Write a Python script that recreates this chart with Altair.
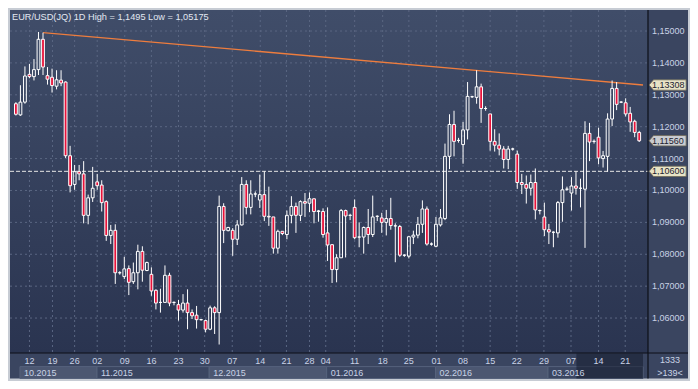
import altair as alt
import pandas as pd

# ---------------- data ----------------
opens = [1.1272, 1.1237, 1.1277, 1.1364, 1.1357, 1.1379, 1.1474, 1.1360, 1.1355, 1.1327,
         1.1346, 1.1340, 1.1109, 1.1019, 1.1059, 1.1052, 1.0922, 1.0977, 1.1027, 1.1017,
         1.0965, 1.0859, 1.0875, 1.0742, 1.0730, 1.0755, 1.0714, 1.0742, 1.0809, 1.0749,
         1.0737, 1.0687, 1.0649, 1.0649, 1.0734, 1.0649, 1.0642, 1.0625, 1.0647, 1.0617,
         1.0609, 1.0595, 1.0592, 1.0565, 1.0632, 1.0617, 1.0950, 1.0874, 1.0875, 1.0847,
         1.0892, 1.1019, 1.0947, 1.0989, 1.0970, 1.0987, 1.0919, 1.0917, 1.0819, 1.0872,
         1.0862, 1.0922, 1.0950, 1.0922, 1.0965, 1.0960, 1.0974, 1.0934, 1.0934, 1.0867,
         1.0830, 1.0752, 1.0789, 1.0937, 1.0922, 1.0947, 1.0854, 1.0854, 1.0884, 1.0862,
         1.0919, 1.0914, 1.0900, 1.0912, 1.0889, 1.0887, 1.0797, 1.0794, 1.0854, 1.0860,
         1.0894, 1.0942, 1.0832, 1.0825, 1.0892, 1.0912, 1.1107, 1.1207, 1.1157, 1.1144,
         1.1190, 1.1294, 1.1292, 1.1325, 1.1257, 1.1240, 1.1154, 1.1142, 1.1130, 1.1097,
         1.1130, 1.1114, 1.1025, 1.1019, 1.1007, 1.1025, 1.0937, 1.0917, 1.0877, 1.0869,
         1.0867, 1.0962, 1.1004, 1.0992, 1.1014, 1.1007, 1.1004, 1.1179, 1.1154, 1.1167,
         1.1100, 1.1107, 1.1224, 1.1320, 1.1277, 1.1275, 1.1242, 1.1217, 1.1182]
highs = [1.1277, 1.1330, 1.1389, 1.1397, 1.1412, 1.1497, 1.1495, 1.1387, 1.1382, 1.1377,
         1.1377, 1.1342, 1.1140, 1.1080, 1.1080, 1.1092, 1.0987, 1.1074, 1.1052, 1.1032,
         1.0969, 1.0892, 1.0894, 1.0747, 1.0792, 1.0765, 1.0774, 1.0830, 1.0825, 1.0777,
         1.0759, 1.0690, 1.0692, 1.0765, 1.0742, 1.0652, 1.0657, 1.0675, 1.0690, 1.0627,
         1.0638, 1.0597, 1.0595, 1.0639, 1.0637, 1.0984, 1.0960, 1.0886, 1.0882, 1.0907,
         1.1042, 1.1032, 1.1032, 1.0997, 1.1050, 1.1060, 1.1012, 1.0917, 1.0877, 1.0872,
         1.0937, 1.0982, 1.0962, 1.0969, 1.0992, 1.0994, 1.0974, 1.0939, 1.0944, 1.0947,
         1.0832, 1.0800, 1.0942, 1.0940, 1.0927, 1.0972, 1.0900, 1.0887, 1.0942, 1.0984,
         1.0922, 1.0930, 1.0939, 1.0977, 1.0897, 1.0892, 1.0800, 1.0857, 1.0874, 1.0917,
         1.0969, 1.0950, 1.0837, 1.0917, 1.0942, 1.1147, 1.1239, 1.1250, 1.1165, 1.1215,
         1.1340, 1.1297, 1.1377, 1.1335, 1.1264, 1.1240, 1.1192, 1.1179, 1.1139, 1.1140,
         1.1134, 1.1125, 1.1052, 1.1047, 1.1050, 1.1069, 1.0940, 1.0962, 1.0895, 1.0872,
         1.0967, 1.1044, 1.1012, 1.1042, 1.1060, 1.1037, 1.1217, 1.1212, 1.1160, 1.1197,
         1.1124, 1.1242, 1.1345, 1.1340, 1.1280, 1.1289, 1.1262, 1.1222, 1.1187]
lows = [1.1235, 1.1234, 1.1272, 1.1352, 1.1345, 1.1362, 1.1362, 1.1332, 1.1307, 1.1317,
        1.1327, 1.1102, 1.0994, 1.1002, 1.1032, 1.0897, 1.0894, 1.0964, 1.1002, 1.0934,
        1.0842, 1.0832, 1.0707, 1.0736, 1.0722, 1.0672, 1.0707, 1.0690, 1.0714, 1.0747,
        1.0670, 1.0627, 1.0617, 1.0649, 1.0637, 1.0640, 1.0592, 1.0617, 1.0565, 1.0597,
        1.0567, 1.0592, 1.0555, 1.0562, 1.0550, 1.0517, 1.0835, 1.0872, 1.0795, 1.0829,
        1.0890, 1.0925, 1.0925, 1.0979, 1.0945, 1.0904, 1.0889, 1.0802, 1.0802, 1.0860,
        1.0847, 1.0897, 1.0867, 1.0904, 1.0917, 1.0932, 1.0897, 1.0902, 1.0852, 1.0779,
        1.0710, 1.0712, 1.0789, 1.0790, 1.0907, 1.0847, 1.0822, 1.0802, 1.0832, 1.0854,
        1.0904, 1.0867, 1.0859, 1.0877, 1.0775, 1.0792, 1.0792, 1.0787, 1.0832, 1.0850,
        1.0867, 1.0827, 1.0827, 1.0822, 1.0887, 1.0907, 1.1067, 1.1107, 1.1150, 1.1084,
        1.1160, 1.1290, 1.1272, 1.1212, 1.1250, 1.1125, 1.1122, 1.1110, 1.1069, 1.1067,
        1.1125, 1.1005, 1.0989, 1.0959, 1.0984, 1.0909, 1.0925, 1.0857, 1.0832, 1.0822,
        1.0852, 1.0902, 1.0999, 1.0937, 1.0987, 1.0947, 1.0820, 1.1092, 1.1147, 1.1082,
        1.1072, 1.1059, 1.1202, 1.1252, 1.1274, 1.1232, 1.1184, 1.1167, 1.1152]
closes = [1.1239, 1.1277, 1.1359, 1.1357, 1.1379, 1.1474, 1.1387, 1.1349, 1.1329, 1.1347,
          1.1337, 1.1109, 1.1015, 1.1059, 1.1052, 1.0922, 1.0977, 1.1007, 1.1015, 1.0962,
          1.0859, 1.0875, 1.0742, 1.0742, 1.0754, 1.0712, 1.0742, 1.0809, 1.0750, 1.0774,
          1.0685, 1.0647, 1.0649, 1.0734, 1.0647, 1.0649, 1.0625, 1.0647, 1.0617, 1.0607,
          1.0595, 1.0595, 1.0565, 1.0632, 1.0617, 1.0950, 1.0875, 1.0884, 1.0847, 1.0892,
          1.1019, 1.0947, 1.0989, 1.0989, 1.0987, 1.0919, 1.0917, 1.0819, 1.0872, 1.0865,
          1.0922, 1.0950, 1.0922, 1.0965, 1.0960, 1.0974, 1.0934, 1.0936, 1.0862, 1.0829,
          1.0752, 1.0789, 1.0937, 1.0920, 1.0922, 1.0852, 1.0854, 1.0884, 1.0862, 1.0917,
          1.0919, 1.0900, 1.0912, 1.0890, 1.0889, 1.0797, 1.0797, 1.0855, 1.0860, 1.0894,
          1.0942, 1.0832, 1.0832, 1.0894, 1.0914, 1.1107, 1.1207, 1.1154, 1.1157, 1.1190,
          1.1295, 1.1294, 1.1325, 1.1257, 1.1257, 1.1154, 1.1142, 1.1130, 1.1097, 1.1130,
          1.1130, 1.1025, 1.1019, 1.1007, 1.1025, 1.0939, 1.0937, 1.0877, 1.0870, 1.0869,
          1.0962, 1.1002, 1.1004, 1.1014, 1.1007, 1.1007, 1.1179, 1.1152, 1.1154, 1.1102,
          1.1109, 1.1224, 1.1320, 1.1270, 1.1277, 1.1240, 1.1215, 1.1182, 1.1156]

day_labels = ["12", "19", "26", "02", "09", "16", "23", "30", "07", "14", "21", "28",
              "04", "11", "18", "25", "01", "08", "15", "22", "29", "07", "14", "21"]
day_pos = [3.0, 8.1, 13.0, 18.0, 24.1, 30.0, 36.0, 41.8, 47.9, 54.1, 59.9, 65.0,
           68.6, 75.0, 81.2, 87.0, 93.1, 99.0, 105.0, 110.9, 116.9, 122.9, 129.0, 134.9]

month_labels = ["10.2015", "11.2015", "12.2015", "01.2016", "02.2016", "03.2016"]
month_start = [0.9, 17.95, 42.8, 68.8, 92.9, 117.8]
month_end = [17.95, 42.8, 68.8, 92.9, 117.8, 138.84]
month_shade = ["light", "dark", "light", "dark", "light", "dark"]

price_ticks = [1.06, 1.07, 1.08, 1.09, 1.10, 1.11, 1.12, 1.13, 1.14, 1.15]
price_tick_labels = ["1,06000", "1,07000", "1,08000", "1,09000", "1,10000",
                     "1,11000", "1,12000", "1,13000", "1,14000", "1,15000"]

trend_idx = [6, 138.84]
trend_price = [1.1495, 1.13308]
support_price = [1.106]
tag_prices = [1.13308, 1.1156, 1.106]
tag_labels = ["1,13308", "1,11560", "1,10600"]
tag_kind = ["line", "last", "line"]

title_text = "EUR/USD(JQ) 1D High = 1,1495 Low = 1,05175"
corner_top = "1333"
corner_bottom = ">139<"
window_start = [124.1]
window_end = [138.84]

# ---------------- layout ----------------
W, H = 638, 343
AX_R = 678      # right edge of the axis panel (plot-local px)
AX_B = 368.5    # bottom edge of the axis panel
FONT = "Liberation Sans"
LABEL_COLOR = "#c9d3e6"

xs = alt.Scale(domain=[-0.2, 138.84], nice=False, zero=False)
ys = alt.Scale(domain=[1.04904, 1.15659], nice=False, zero=False)

n = len(opens)
df = pd.DataFrame({"i": list(range(n)), "o": opens, "h": highs, "l": lows, "c": closes})
df["top"] = df[["o", "c"]].max(axis=1)
df["bot"] = df[["o", "c"]].min(axis=1)
df["kind"] = ["up" if c >= o else "down" for o, c in zip(opens, closes)]

one = pd.DataFrame({"a": [0]})

X = lambda f: alt.X(f, type="quantitative", scale=xs, axis=None)
Y = lambda f: alt.Y(f, type="quantitative", scale=ys, axis=None)

panel_bg = alt.Chart(one).mark_rect(color="#3a4560").encode(
    x=alt.value(0), x2=alt.value(AX_R), y=alt.value(0), y2=alt.value(AX_B))

plot_bg = alt.Chart(one).mark_rect(
    color=alt.LinearGradient(gradient="linear", x1=0, y1=0, x2=0, y2=1,
                             stops=[alt.GradientStop(offset=0, color="#404d69"),
                                    alt.GradientStop(offset=1, color="#2a3450")])
).encode(x=alt.value(0), x2=alt.value(W), y=alt.value(0), y2=alt.value(H))

hgrid = alt.Chart(pd.DataFrame({"p": price_ticks})).mark_rule(
    color="#5a6682", strokeDash=[2, 3], strokeWidth=1).encode(
    y=Y("p"), x=alt.value(0), x2=alt.value(W))

vgrid = alt.Chart(pd.DataFrame({"d": day_pos})).mark_rule(
    color="#5a6682", strokeDash=[2, 3], strokeWidth=1).encode(
    x=X("d"), y=alt.value(0), y2=alt.value(H))

support = alt.Chart(pd.DataFrame({"p": support_price})).mark_rule(
    color="#e4e4e4", strokeDash=[4, 2], strokeWidth=1).encode(
    y=Y("p"), x=alt.value(0), x2=alt.value(W))

trend = alt.Chart(pd.DataFrame({"i": trend_idx, "p": trend_price})).mark_line(
    color="#ee7d3e", strokeWidth=1.3).encode(x=X("i"), y=Y("p"))

base = alt.Chart(df)
wick_up = base.mark_rule(color="white", strokeWidth=1).encode(
    x=X("i"), y=Y("h"), y2="top")
wick_dn = base.mark_rule(color="white", strokeWidth=1).encode(
    x=X("i"), y=Y("bot"), y2="l")
bodies = base.mark_bar(size=2.8, stroke="white", strokeWidth=1).encode(
    x=X("i"), y=Y("bot"), y2="top",
    fill=alt.condition("datum.kind == 'up'", alt.value("rgba(0,0,0,0)"),
                       alt.value("#e8123a")))

vline = alt.Chart(one).mark_rule(color="#0c0f16", strokeWidth=1.2).encode(
    x=alt.value(W), y=alt.value(0), y2=alt.value(AX_B))
hline = alt.Chart(one).mark_rule(color="#0c0f16", strokeWidth=1.2).encode(
    y=alt.value(H), x=alt.value(0), x2=alt.value(AX_R))

months_df = pd.DataFrame({"m": month_labels, "s": month_start, "e": month_end,
                          "k": month_shade})
month_boxes = alt.Chart(months_df).mark_rect(stroke="#56627c", strokeWidth=1).encode(
    x=X("s"), x2="e", y=alt.value(356.6), y2=alt.value(AX_B),
    fill=alt.condition("datum.k == 'light'", alt.value("#4c5771"), alt.value("#3b4661")))
month_text = alt.Chart(months_df).mark_text(
    align="left", baseline="middle", dx=4, font=FONT, fontSize=9,
    color=LABEL_COLOR).encode(x=X("s"), y=alt.value(362.8), text="m:N")

day_text = alt.Chart(pd.DataFrame({"d": day_pos, "t": day_labels})).mark_text(
    align="center", baseline="middle", font=FONT, fontSize=9,
    color=LABEL_COLOR).encode(x=X("d"), y=alt.value(351.0), text="t:N")

window = alt.Chart(pd.DataFrame({"s": window_start, "e": window_end})).mark_rect(
    color="#141b2d", opacity=0.55).encode(
    x=X("s"), x2="e", y=alt.value(H + 0.6), y2=alt.value(AX_B))

price_text = alt.Chart(pd.DataFrame({"p": price_ticks, "t": price_tick_labels})).mark_text(
    align="left", baseline="middle", font=FONT, fontSize=9,
    color=LABEL_COLOR).encode(x=alt.value(642), y=Y("p"), text="t:N")

tag_df = pd.DataFrame({"p": tag_prices, "t": tag_labels, "k": tag_kind})
TAG_PATH = "M-1,0L-0.76,-0.28L1,-0.28L1,0.28L-0.76,0.28Z"
tags = alt.Chart(tag_df).mark_point(
    shape=TAG_PATH, size=37 * 37, filled=True, stroke="#6e6a58", strokeWidth=0.8,
    opacity=1).encode(
    x=alt.value(657.6), y=Y("p"),
    fill=alt.condition("datum.k == 'line'", alt.value("#e8e3c6"), alt.value("#c9ccd1")))
tag_text = alt.Chart(tag_df).mark_text(
    align="left", baseline="middle", font=FONT, fontSize=9, color="#1c2230").encode(
    x=alt.value(642), y=Y("p"), text="t:N")

title = alt.Chart(one).mark_text(
    align="left", baseline="middle", font=FONT, fontSize=9.2, color="#e2e8f2").encode(
    x=alt.value(2), y=alt.value(7.2), text=alt.value(title_text))

corner = alt.Chart(pd.DataFrame({"t": [corner_top, corner_bottom], "y": [350.2, 362.6]})).mark_text(
    align="center", baseline="middle", font=FONT, fontSize=9, color=LABEL_COLOR).encode(
    x=alt.value(660), y=alt.Y("y:Q", scale=None), text="t:N")

chart = alt.layer(
    panel_bg, plot_bg, hgrid, vgrid, support, trend,
    wick_up, wick_dn, bodies,
    month_boxes, window, month_text, day_text,
    vline, hline, price_text, tags, tag_text, title, corner
).properties(
    width=W, height=H,
    autosize=alt.AutoSizeParams(type="none"),
    padding={"left": 2, "top": 2, "right": 42, "bottom": 28},
    background="#c7ccd4"
).configure_view(stroke=None)

chart.save("out.html", embed_options={"renderer": "svg", "actions": False})
